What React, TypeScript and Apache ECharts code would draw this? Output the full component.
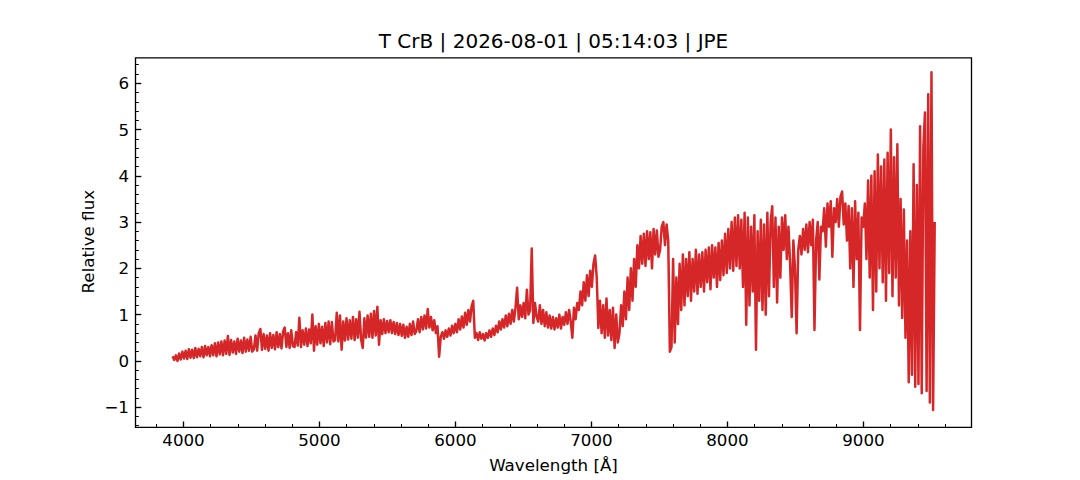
import React, { useEffect, useRef } from "react";
import * as echarts from "echarts";

// Spectrum sampling grid (Å)
const WAVE_START = 3920;
const WAVE_STEP = 11.95;

// Relative flux, in wavelength order
const FLUX_BLUE = [
  0.1, 0.02, 0.12, 0.0, 0.16, 0.03, 0.2, 0.05, 0.22, 0.04, 0.25, 0.07, 0.24, 0.06, 0.28, 0.08, 0.26, 0.1, 0.3, 0.08, 0.32, 0.12, 0.3, 0.1, 0.34,
  0.12, 0.38, 0.1, 0.4, 0.14, 0.42, 0.12, 0.44, 0.15, 0.54, 0.13, 0.45, 0.18, 0.42, 0.15, 0.48, 0.2, 0.44, 0.17, 0.5, 0.2, 0.46, 0.22, 0.52, 0.2,
  0.25, 0.55, 0.22, 0.6, 0.69, 0.24, 0.58, 0.26, 0.55, 0.22, 0.6, 0.28, 0.56, 0.25, 0.62, 0.3, 0.58, 0.27, 0.64, 0.72, 0.3, 0.6, 0.28, 0.66, 0.32,
  0.3, 0.62, 0.33, 0.93, 0.3, 0.66, 0.35, 0.7, 0.32, 0.68, 0.38, 1.0, 0.22, 0.75, 0.35, 0.8, 0.38, 0.74, 0.32, 0.82, 0.4, 0.85, 0.36, 0.84, 0.42,
  0.45, 1.04, 0.42, 0.98, 0.24, 0.85, 0.44, 0.92, 0.46, 0.88, 0.48, 0.95, 0.45, 0.9, 0.5, 1.06, 0.46, 0.28, 0.92, 0.5, 0.98, 0.52, 1.02, 0.5, 1.08,
];
const FLUX_GREEN = [
  0.55, 1.17, 0.35, 0.88, 0.58, 0.9, 0.6, 0.86, 0.62, 0.88, 0.6, 0.84, 0.58, 0.82, 0.56, 0.8, 0.54, 0.78, 0.5, 0.74, 0.52, 0.8, 0.56, 0.85, 0.58,
  0.65, 0.9, 0.62, 0.95, 0.68, 0.98, 0.7, 1.12, 0.72, 0.95, 0.66, 0.88, 0.6, 0.75, 0.09, 0.52, 0.62, 0.48, 0.66, 0.52, 0.7, 0.55, 0.76, 0.6, 0.8,
  0.62, 0.9, 0.68, 0.96, 0.72, 1.04, 0.78, 1.1, 0.85, 1.18, 1.3, 0.5, 0.6, 0.45, 0.62, 0.48, 0.58, 0.44, 0.6, 0.5, 0.66, 0.52, 0.7, 0.56, 0.76,
  0.62, 0.85, 0.68, 0.9, 0.72, 0.98, 0.75, 1.02, 0.8, 1.1, 0.85, 1.15, 1.58, 0.9, 1.2, 0.95, 1.25, 0.92, 1.54, 1.0, 1.1, 2.43, 0.82, 1.25, 0.95,
  0.85, 1.2, 0.8, 1.1, 0.75, 1.05, 0.72, 0.98, 0.7, 0.95, 0.68, 0.92, 0.72, 1.0, 0.7, 0.95, 0.78, 1.05, 0.8, 1.1, 0.85, 0.5, 1.15, 0.9, 1.25,
];
const FLUX_RED = [
  1.1, 1.5, 1.2, 1.7, 1.3, 1.85, 1.4, 1.95, 1.6, 2.1, 2.28, 1.8, 0.71, 1.3, 0.6, 1.2, 0.5, 1.35, 0.55, 1.1, 0.45, 1.15, 0.28, 1.0, 0.4,
  0.6, 1.2, 0.75, 1.5, 0.9, 1.8, 1.1, 2.0, 1.3, 2.2, 1.6, 2.5, 2.0, 2.7, 2.1, 2.75, 2.05, 2.8, 2.2, 2.78, 2.0, 2.85, 2.3, 2.82, 2.25,
  2.4, 2.9, 3.0, 2.5, 2.95, 2.6, 0.2, 0.3, 2.2, 0.4, 1.8, 0.8, 2.1, 1.1, 2.3, 1.2, 2.2, 1.4, 2.35, 1.3, 2.2, 1.5, 2.4, 1.45, 2.3,
  1.6, 2.35, 1.5, 2.4, 1.7, 2.45, 1.55, 2.5, 1.8, 2.45, 1.6, 2.55, 1.75, 2.6, 1.85, 2.75, 1.9, 2.85, 2.0, 3.0, 1.95, 3.1, 2.05, 3.15, 2.0,
  3.05, 1.6, 3.2, 0.78, 3.1, 1.2, 2.9, 1.5, 3.15, 0.24, 2.8, 1.3, 3.05, 1.1, 2.95, 1.0, 3.2, 1.4, 3.0, 3.34, 1.6, 3.1, 1.26, 2.9, 1.8,
];
const FLUX_NIR = [
  3.1, 2.4, 3.15, 2.2, 2.9, 2.1, 0.95, 2.6, 2.0, 0.6, 2.4, 2.7, 2.3, 2.85, 2.4, 2.95, 2.35, 3.0, 2.5, 3.05, 0.67, 2.6, 3.0, 1.76, 2.9,
  2.8, 3.3, 2.47, 3.4, 2.9, 3.45, 2.25, 3.3, 3.0, 3.5, 2.9, 3.55, 3.66, 2.95, 3.4, 2.6, 3.35, 2.0, 3.3, 1.6, 3.45, 2.2, 3.2, 0.67, 3.1,
  2.9, 3.4, 2.2, 3.9, 1.8, 4.0, 1.1, 4.1, 1.5, 4.46, 2.0, 4.2, 1.7, 4.35, 1.3, 4.5, 1.9, 5.0, 1.4, 4.4, 1.8, 4.68, 1.2, 3.5, 0.93,
  3.27, 0.5, 2.6, -0.46, 2.8, -0.3, 4.25, -0.56, 3.8, -0.5, 5.07, -0.7, 4.6, 5.37, -0.65, 5.76, -0.9, 6.24, -1.06, 3.0,
];

const X_MAJOR = [4000, 5000, 6000, 7000, 8000, 9000];
const X_MINOR = [3800, 4200, 4400, 4600, 4800, 5200, 5400, 5600, 5800, 6200, 6400, 6600, 6800, 7200, 7400, 7600, 7800, 8200, 8400, 8600, 8800, 9200, 9400, 9600];
const Y_MAJOR = [-1, 0, 1, 2, 3, 4, 5, 6];
const Y_MINOR = [-1.4, -1.2, -0.8, -0.6, -0.4, -0.2, 0.2, 0.4, 0.6, 0.8, 1.2, 1.4, 1.6, 1.8, 2.2, 2.4, 2.6, 2.8, 3.2, 3.4, 3.6, 3.8, 4.2, 4.4, 4.6, 4.8, 5.2, 5.4, 5.6, 5.8, 6.2, 6.4];

const X_RANGE = [3647, 9795];
const Y_RANGE = [-1.435, 6.55];

const TITLE = "T CrB | 2026-08-01 | 05:14:03 | JPE";
const X_NAME = "Wavelength [Å]";
const Y_NAME = "Relative flux";

const FONT = "DejaVu Sans";
const LABEL_SIZE = 16.7;
const TITLE_SIZE = 20;

export default function App() {
  const ref = useRef<HTMLDivElement>(null);

  useEffect(() => {
    if (!ref.current) return;
    const chart = echarts.init(ref.current, null, { renderer: "svg" });
    const flux = [...FLUX_BLUE, ...FLUX_GREEN, ...FLUX_RED, ...FLUX_NIR];
    const data = flux.map((f, i) => [WAVE_START + i * WAVE_STEP, f]);
    const fmt = (v: number) => (v < 0 ? "\u2212" + Math.abs(v) : String(v));

    const grid = { left: 135.5, top: 57.8, width: 836, height: 369.5 };

    const axisCommon = {
      type: "value",
      axisLine: { show: false, onZero: false },
      splitLine: { show: false },
    };

    chart.setOption({
      animation: false,
      backgroundColor: "#ffffff",
      textStyle: { fontFamily: FONT },
      grid: { ...grid, show: true, borderColor: "#000", borderWidth: 1.33, backgroundColor: "transparent" },
      xAxis: [
        {
          ...axisCommon,
          min: X_RANGE[0],
          max: X_RANGE[1],
          position: "bottom",
          axisTick: { show: true, inside: true, length: 5.8, customValues: X_MAJOR, lineStyle: { color: "#000", width: 1.33 } },
          axisLabel: { show: true, customValues: X_MAJOR, margin: 4, color: "#000", fontSize: LABEL_SIZE, fontFamily: FONT, formatter: fmt },
        },
        {
          ...axisCommon,
          min: X_RANGE[0],
          max: X_RANGE[1],
          position: "bottom",
          axisTick: { show: true, inside: true, length: 3.3, customValues: X_MINOR, lineStyle: { color: "#000", width: 1 } },
          axisLabel: { show: false },
        },
      ],
      yAxis: [
        {
          ...axisCommon,
          min: Y_RANGE[0],
          max: Y_RANGE[1],
          position: "left",
          axisTick: { show: true, inside: true, length: 5.8, customValues: Y_MAJOR, lineStyle: { color: "#000", width: 1.33 } },
          axisLabel: { show: true, customValues: Y_MAJOR, margin: 6.5, color: "#000", fontSize: LABEL_SIZE, fontFamily: FONT, formatter: fmt },
        },
        {
          ...axisCommon,
          min: Y_RANGE[0],
          max: Y_RANGE[1],
          position: "left",
          axisTick: { show: true, inside: true, length: 3.3, customValues: Y_MINOR, lineStyle: { color: "#000", width: 1 } },
          axisLabel: { show: false },
        },
      ],
      graphic: [
        {
          type: "text",
          x: 553.5,
          y: 41.4,
          style: { text: TITLE, fill: "#000", fontSize: TITLE_SIZE, fontFamily: FONT, textAlign: "center", textVerticalAlign: "middle" },
        },
        {
          type: "text",
          x: 553.5,
          y: 465.2,
          style: { text: X_NAME, fill: "#000", fontSize: LABEL_SIZE, fontFamily: FONT, textAlign: "center", textVerticalAlign: "middle" },
        },
        {
          type: "text",
          x: 87.5,
          y: 241.7,
          rotation: Math.PI / 2,
          style: { text: Y_NAME, fill: "#000", fontSize: LABEL_SIZE, fontFamily: FONT, textAlign: "center", textVerticalAlign: "middle" },
        },
      ],
      series: [
        {
          type: "line",
          xAxisIndex: 0,
          yAxisIndex: 0,
          data,
          showSymbol: false,
          symbol: "none",
          lineStyle: { color: "#d62728", width: 2.5, join: "round", cap: "butt" },
          emphasis: { disabled: true },
          silent: true,
        },
      ],
    });

    return () => chart.dispose();
  }, []);

  return (
    <div
      ref={ref}
      style={{ position: "absolute", left: 0, top: 0, width: 1080, height: 480, background: "#fff" }}
    />
  );
}
